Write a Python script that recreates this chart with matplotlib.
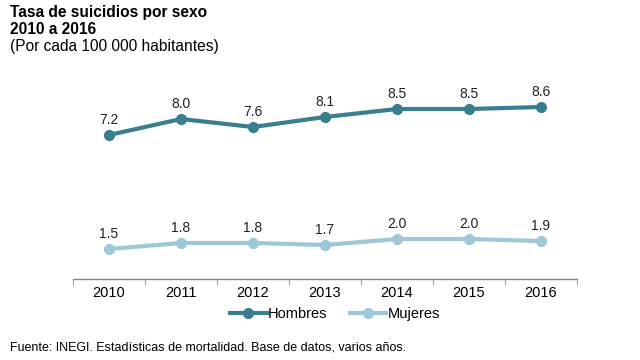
import matplotlib
matplotlib.use("Agg")
import matplotlib.pyplot as plt
import numpy as np

plt.rcParams['font.family'] = ['Liberation Sans', 'DejaVu Sans']

years = ["2010", "2011", "2012", "2013", "2014", "2015", "2016"]
hombres = [7.2, 8.0, 7.6, 8.1, 8.5, 8.5, 8.6]
mujeres = [1.5, 1.8, 1.8, 1.7, 2.0, 2.0, 1.9]

c_h = "#3a7f8f"
c_m = "#9cc8d8"

fig = plt.figure(figsize=(6.4, 3.6), dpi=100)
ax = fig.add_axes([73/640, 1 - 279/360, (577 - 73)/640, 200/360])
x = np.arange(len(years))
ax.plot(x, hombres, color=c_h, lw=3, marker="o", ms=7, label="Hombres")
ax.plot(x, mujeres, color=c_m, lw=3, marker="o", ms=7, label="Mujeres")
for xi, v in zip(x, hombres):
    ax.annotate(f"{v:.1f}", (xi, v), xytext=(0, 6), textcoords="offset points",
                ha="center", va="bottom", fontsize=10, color="#222222")
for xi, v in zip(x, mujeres):
    ax.annotate(f"{v:.1f}", (xi, v), xytext=(0, 6), textcoords="offset points",
                ha="center", va="bottom", fontsize=10, color="#222222")

ax.set_xlim(-0.5, 6.5)
ax.set_ylim(0, 10)
for s in ["top", "right", "left"]:
    ax.spines[s].set_visible(False)
ax.spines["bottom"].set_color("#888888")
ax.spines["bottom"].set_linewidth(1)
ax.set_yticks([])
ax.set_xticks(x)
ax.set_xticklabels(years, fontsize=10.5)
ax.tick_params(axis="x", which="major", length=0, pad=5)
ax.set_xticks(np.arange(-0.5, 7, 1), minor=True)
ax.tick_params(axis="x", which="minor", length=4, color="#888888", direction="out")

fig.legend(loc="center", bbox_to_anchor=(335/640, 1 - 314/360), ncol=2, frameon=False,
           fontsize=10.5, handlelength=2.5, columnspacing=1.5, handletextpad=0.1)

fig.text(10/640, 1 - 13/360, "Tasa de suicidios por sexo", fontsize=11.2, fontweight="bold", va="center")
fig.text(10/640, 1 - 29/360, "2010 a 2016", fontsize=11.2, fontweight="bold", va="center")
fig.text(10/640, 1 - 46/360, "(Por cada 100 000 habitantes)", fontsize=11.2, va="center")
fig.text(10/640, 1 - 347/360, "Fuente: INEGI. Estadísticas de mortalidad. Base de datos, varios años.",
         fontsize=9, va="center")

fig.savefig("out.png", dpi=100)
